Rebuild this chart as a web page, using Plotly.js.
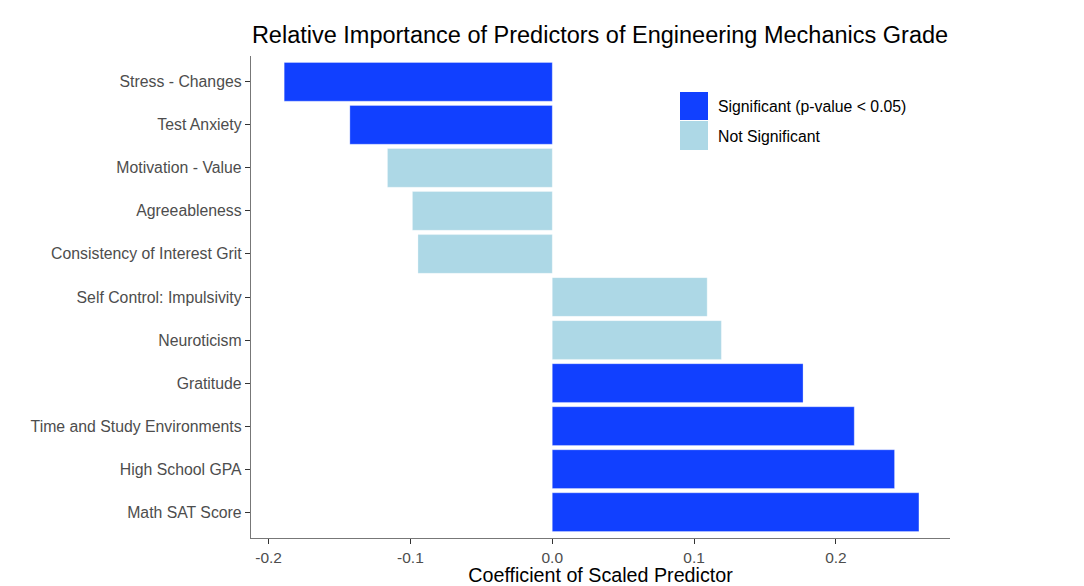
<!DOCTYPE html>
<html>
<head>
<meta charset="utf-8">
<script src="https://cdn.plot.ly/plotly-3.0.1.min.js"></script>
<style>html,body{margin:0;padding:0;background:#fff;}#chart{width:1084px;height:586px;}</style>
</head>
<body>
<div id="chart"></div>
<script>
const categories = ["Stress - Changes","Test Anxiety","Motivation - Value","Agreeableness","Consistency of Interest Grit","Self Control: Impulsivity","Neuroticism","Gratitude","Time and Study Environments","High School GPA","Math SAT Score"];
const coefficients = [-0.189, -0.1427, -0.1162, -0.0986, -0.0947, 0.1092, 0.1192, 0.1768, 0.2129, 0.2413, 0.2585];
const significant = [true, true, false, false, false, false, false, true, true, true, true];
const xTicks = [-0.2, -0.1, 0.0, 0.1, 0.2];
const xTickLabels = ["-0.2", "-0.1", "0.0", "0.1", "0.2"];
const legendLabels = ["Significant (p-value < 0.05)", "Not Significant"];

const SIG = "#1140FF", NSIG = "#ADD8E6";
function pick(flag){
  const y = [], x = [];
  categories.forEach((c,i)=>{ if(significant[i]===flag){ y.push(c); x.push(coefficients[i]); } });
  return {x, y};
}
const s = pick(true), n = pick(false);
const traces = [
  {type:"bar", orientation:"h", x:s.x, y:s.y, width:0.9, marker:{color:SIG, line:{color:"rgba(255,255,255,0.5)", width:0.6}}, name:legendLabels[0], hoverinfo:"x+y"},
  {type:"bar", orientation:"h", x:n.x, y:n.y, width:0.9, marker:{color:NSIG, line:{color:"rgba(255,255,255,0.5)", width:0.6}}, name:legendLabels[1], hoverinfo:"x+y"}
];

const font = "'Liberation Sans', Arial, Helvetica, sans-serif";
const layout = {
  width:1084, height:586,
  paper_bgcolor:"#fff", plot_bgcolor:"#fff",
  margin:{l:251, r:134, t:56, b:48},
  barmode:"overlay",
  showlegend:false,
  font:{family:font, color:"#4D4D4D", size:15.8},
  title:{text:"Relative Importance of Predictors of Engineering Mechanics Grade", font:{family:font, size:23.5, color:"#000"}, x:0.5535, xanchor:"center", y:0.94, yanchor:"middle"},
  xaxis:{
    range:[-0.2124, 0.2804], tickvals:xTicks, ticktext:xTickLabels,
    showgrid:false, zeroline:false, showline:true, linecolor:"#777", linewidth:1.2,
    ticks:"outside", ticklen:5, tickcolor:"#333", tickwidth:1,
    tickfont:{family:font, size:15.5, color:"#4D4D4D"},
    title:{text:"Coefficient of Scaled Predictor", font:{family:font, size:19.7, color:"#000"}, standoff:4},
    automargin:false, fixedrange:true
  },
  yaxis:{
    type:"category", categoryorder:"array", categoryarray:categories,
    range:[10.6, -0.6],
    showgrid:false, zeroline:false, showline:true, linecolor:"#777", linewidth:1.2,
    ticks:"outside", ticklen:5, tickcolor:"#333", tickwidth:1,
    tickfont:{family:font, size:15.8, color:"#4D4D4D"},
    automargin:false, fixedrange:true
  },
  shapes:[
    {type:"rect", xref:"paper", yref:"paper", x0:0.6137, x1:0.6538, y0:0.8672, y1:0.9253, fillcolor:SIG, line:{width:0}},
    {type:"rect", xref:"paper", yref:"paper", x0:0.6137, x1:0.6538, y0:0.805, y1:0.8651, fillcolor:NSIG, line:{width:0}}
  ],
  annotations:[
    {xref:"paper", yref:"paper", x:0.665, y:0.896, xanchor:"left", yanchor:"middle", text:legendLabels[0], showarrow:false, font:{family:font, size:15.8, color:"#000"}},
    {xref:"paper", yref:"paper", x:0.665, y:0.834, xanchor:"left", yanchor:"middle", text:legendLabels[1], showarrow:false, font:{family:font, size:15.8, color:"#000"}}
  ]
};
Plotly.newPlot("chart", traces, layout, {displayModeBar:false, staticPlot:true});
</script>
</body>
</html>
